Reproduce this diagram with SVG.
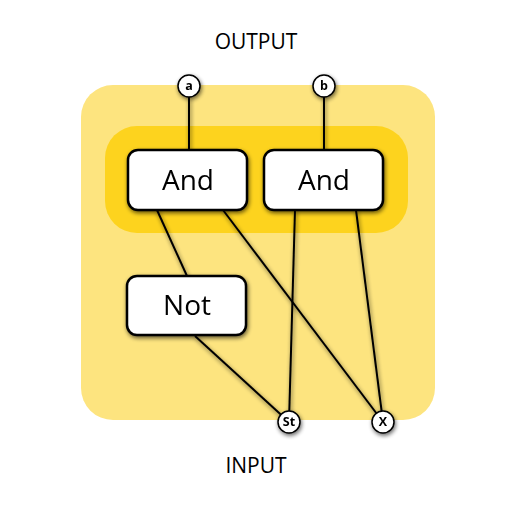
<svg xmlns="http://www.w3.org/2000/svg" width="512" height="512" viewBox="0 0 512 512">
<defs>
<filter id="sh" x="-30%" y="-30%" width="160%" height="160%">
<feGaussianBlur in="SourceAlpha" stdDeviation="2"/>
<feOffset dx="1" dy="2" result="b"/>
<feComponentTransfer><feFuncA type="linear" slope="0.6"/></feComponentTransfer>
<feMerge><feMergeNode/><feMergeNode in="SourceGraphic"/></feMerge>
</filter>
<style>
.box{fill:#fff;stroke:#000;stroke-width:2.5}
.pin{fill:#fff;stroke:#000;stroke-width:1.5}
.lbl{font-family:"Open Sans",sans-serif;font-size:28px;text-anchor:middle;fill:#000}
.pl{font-family:"Open Sans",sans-serif;font-size:12.5px;font-weight:bold;text-anchor:middle;fill:#000}
.ttl{font-family:"Open Sans",sans-serif;font-size:21px;text-anchor:middle;fill:#000}
.wire{stroke:#000;stroke-width:2;fill:none}
</style>
</defs>
<rect width="512" height="512" fill="#fff"/>
<g id="outer"><rect x="81" y="85" width="354" height="335" rx="32" fill="#FDE47F"/></g>
<g id="inner"><rect x="105" y="126" width="303" height="107" rx="32" fill="#FDD31E"/></g>
<text class="ttl" x="256" y="49">OUTPUT</text>
<text class="ttl" x="256" y="473">INPUT</text>
<g id="connectors" filter="url(#sh)">
<line class="wire" x1="189" y1="97" x2="189" y2="151"/>
<line class="wire" x1="324" y1="97" x2="324" y2="151"/>
<line class="wire" x1="157" y1="210" x2="187" y2="276"/>
<line class="wire" x1="223" y1="210" x2="383" y2="422"/>
<line class="wire" x1="295" y1="210" x2="289" y2="422"/>
<line class="wire" x1="356" y1="210" x2="383" y2="422"/>
<line class="wire" x1="195" y1="336" x2="289" y2="422"/>
</g>
<g id="and1" filter="url(#sh)"><rect class="box" x="128" y="150" width="119" height="60" rx="10"/><text class="lbl" x="188" y="190">And</text></g>
<g id="and2" filter="url(#sh)"><rect class="box" x="264" y="150" width="119" height="60" rx="10"/><text class="lbl" x="324" y="190">And</text></g>
<g id="not" filter="url(#sh)"><rect class="box" x="127" y="276" width="119" height="59" rx="10"/><text class="lbl" x="187" y="315">Not</text></g>
<g id="a" filter="url(#sh)"><circle class="pin" cx="189" cy="86" r="11"/><text class="pl" x="189" y="90">a</text></g>
<g id="b" filter="url(#sh)"><circle class="pin" cx="324" cy="86" r="11"/><text class="pl" x="324" y="90">b</text></g>
<g id="St" filter="url(#sh)"><circle class="pin" cx="289" cy="422" r="11"/><text class="pl" x="289" y="426">St</text></g>
<g id="X" filter="url(#sh)"><circle class="pin" cx="383" cy="422" r="11"/><text class="pl" x="383" y="426">X</text></g>
</svg>
